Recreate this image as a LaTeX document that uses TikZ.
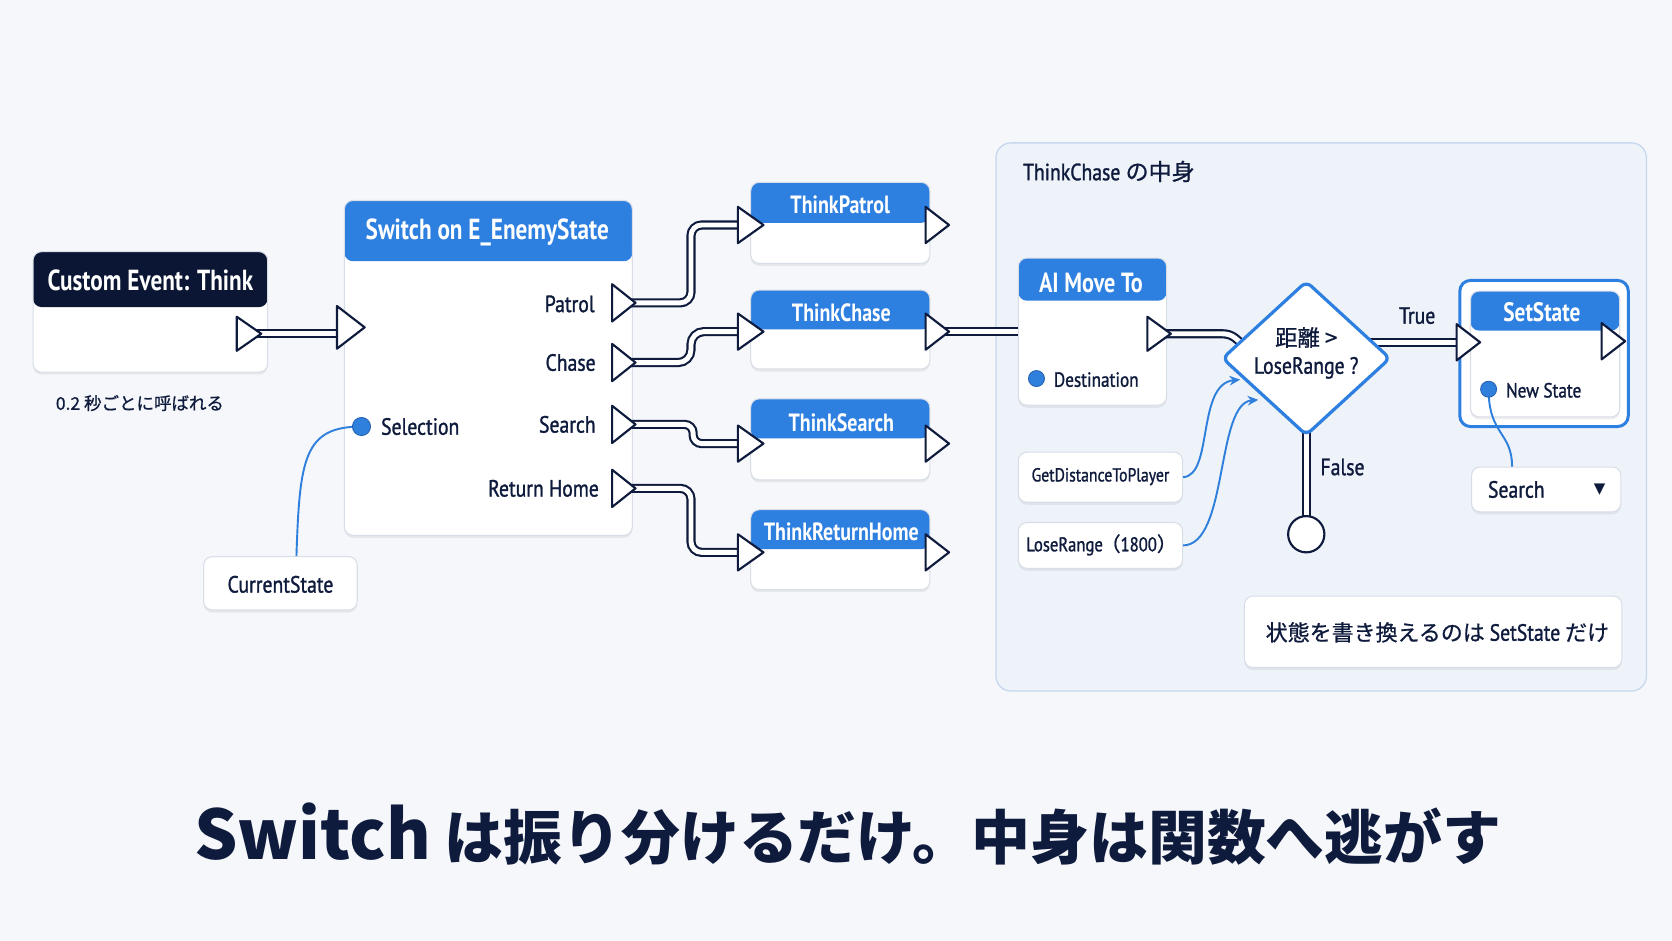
\documentclass[tikz,border=0pt]{standalone}
\usepackage{fontspec}
\usetikzlibrary{calc,fit,shadows,arrows.meta,shapes.geometric}
\setmainfont{PT Sans}
\newfontfamily\jpf[FakeBold=0.8]{Noto Sans CJK JP}
\newfontfamily\jpb{Noto Sans CJK JP}
\newfontfamily\ttlf[FakeStretch=0.8]{PT Sans}
\newfontfamily\labf[FakeStretch=0.84,FakeBold=1.2]{PT Sans}
\newfontfamily\dvf{DejaVu Sans}
\definecolor{bg}{HTML}{F5F7FA}
\definecolor{navy}{HTML}{0F1B3D}
\definecolor{hnavy}{HTML}{0A1633}
\definecolor{hblue}{HTML}{2D7FE0}
\definecolor{wblue}{HTML}{2F7FDD}
\definecolor{panelf}{HTML}{EEF3FA}
\definecolor{panelb}{HTML}{C6D7EE}
\definecolor{boxb}{HTML}{D8DEE7}
\newcommand\drawpin[3]{\draw[pinst] ($(#1)+(0,-#2/2)$) -- ($(#1)+(#3,0)$) -- ($(#1)+(0,#2/2)$) -- cycle;}
\tikzset{
  box/.style={fill=white, draw=boxb, line width=0.5pt, rounded corners=4pt, inner sep=0pt,
    drop shadow={shadow xshift=0pt, shadow yshift=-1.2pt, opacity=0.13}},
  hdr/.style 2 args={path picture={\fill[#1] (path picture bounding box.north west) rectangle ($(path picture bounding box.north east)+(0,#2)$);}},
  panel/.style={fill=panelf, draw=panelb, line width=0.6pt, rounded corners=7pt, inner sep=0pt},
  ttl/.style={font=\ttlf\bfseries\fontsize{12.5}{15}\selectfont, text=white, inner sep=0pt},
  lab/.style={font=\labf\fontsize{11}{13}\selectfont, text=navy, inner sep=0pt},
  slab/.style={font=\labf\fontsize{9.6}{12}\selectfont, text=navy, inner sep=0pt},
  jpt/.style={font=\jpf\fontsize{8.2}{11}\selectfont, text=navy, inner sep=0pt},
  wire/.style={draw=navy, line width=1pt, double=white, double distance=2.3pt},
  data/.style={draw=wblue, line width=0.9pt},
  pinst/.style={fill=white, draw=navy, line width=1pt, line join=round},
  pinc/.style={circle, fill=wblue, draw=hblue!70!navy, line width=0.4pt, inner sep=0pt, minimum size=8.5pt},
}
\begin{document}
\begin{tikzpicture}[x=0.5pt,y=-0.5pt]
\fill[bg] (0,0) rectangle (1568,882);
\useasboundingbox (0,0) rectangle (1568,882);

% panel
\node[panel, fit={(934,134)(1544,648)}] (pn) {};
\node[lab, anchor=base west] (pnt) at (959,169) {ThinkChase {\jpf\fontsize{10.8}{13}\selectfont の中身}};

% custom event
\node[box, hdr={hnavy}{52}, fit={(31,236)(251,349)}] (ce) {};
\node[ttl, font=\ttlf\bfseries\fontsize{13.6}{15}\selectfont] (cet) at (141,263) {Custom Event: Think};
\node[jpt, anchor=west] (cen) at (52,378) {0.2 秒ごとに呼ばれる};

% switch
\node[box, hdr={hblue}{57}, fit={(323,188)(593,502)}] (sw) {};
\node[ttl, font=\ttlf\bfseries\fontsize{13.6}{15}\selectfont] (swt) at (457,218) {Switch on E\_EnemyState};
\node[lab, anchor=east] (lP) at (558,285) {Patrol};
\node[lab, anchor=east] (lC) at (559,340) {Chase};
\node[lab, anchor=east] (lS) at (559,398) {Search};
\node[lab, anchor=east] (lR) at (562,458) {Return Home};
\node[lab, anchor=west] (lSel) at (357,400) {Selection};
\node[box, fit={(191,522)(335,572)}] (cs) {};
\node[lab] (cst) at (263,548) {CurrentState};

% think nodes
\tikzset{tttl/.style={ttl, font=\ttlf\bfseries\fontsize{11.7}{14}\selectfont}}
\node[box, hdr={hblue}{38}, fit={(704,171)(872,247)}] (tp) {};
\node[tttl] (tpt) at (788,192) {ThinkPatrol};
\node[box, hdr={hblue}{37}, fit={(704,272)(872,346)}] (tc) {};
\node[tttl] (tct) at (789,293) {ThinkChase};
\node[box, hdr={hblue}{37}, fit={(704,374)(872,450)}] (ts) {};
\node[tttl] (tst) at (789,396) {ThinkSearch};
\node[box, hdr={hblue}{37}, fit={(704,478)(872,553)}] (tr) {};
\node[tttl] (trt) at (789,499) {ThinkReturnHome};

% AI move to
\node[box, hdr={hblue}{40}, fit={(955,242)(1094,380)}] (amt) {};
\node[ttl, font=\ttlf\bfseries\fontsize{13}{15}\selectfont] (amtt) at (1023,265) {AI Move To};
\node[slab, anchor=west] (lDst) at (988,356) {Destination};

% SetState
\node[fill=white, draw=hblue, line width=1.4pt, rounded corners=5pt, inner sep=0pt, fit={(1369,263)(1527,400)}] (ssh) {};
\node[box, hdr={hblue}{37}, fit={(1379,273)(1519,391)}] (ss) {};
\node[ttl] (sst) at (1446,293) {SetState};
\node[slab, anchor=west] (lNs) at (1412,366) {New State};
\node[box, fit={(1380,438)(1520,480)}] (sd) {};
\node[lab] (sdt) at (1422,459) {Search};
\node[font=\dvf\fontsize{7}{8}\selectfont, text=navy, inner sep=0pt] (sdv) at (1500,459) {▼};

% inputs
\node[box, fit={(955,424)(1109,471)}] (gd) {};
\node[slab, font=\labf\fontsize{8.8}{10}\selectfont] (gdt) at (1032,447) {GetDistanceToPlayer};
\node[box, fit={(955,490)(1109,533)}] (lr) {};
\node[slab, font=\labf\fontsize{9.3}{11}\selectfont] (lrt) at (1033,511) {LoseRange{\jpf\kern-1pt（}1800{\jpf ）}};

% note
\node[box, fit={(1167,559)(1521,626)}] (nt) {};
\node[jpt, font=\jpf\fontsize{10.3}{12}\selectfont] (ntt) at (1348,593) {状態を書き換えるのは {\labf\fontsize{11}{12}\selectfont SetState} だけ};

% coordinates
\coordinate (ceo) at (222,313);
\coordinate (swi) at (316,307);
\coordinate (swP) at (574,284);
\coordinate (swC) at (574,340);
\coordinate (swS) at (574,398);
\coordinate (swR) at (574,458);
\coordinate (tpi) at (692,211); \coordinate (tpo) at (868,211);
\coordinate (tci) at (692,311); \coordinate (tco) at (868,311);
\coordinate (tsi) at (692,416); \coordinate (tso) at (868,416);
\coordinate (tri) at (692,518); \coordinate (tro) at (868,518);
\coordinate (amo) at (1076,313);
\coordinate (ssi) at (1366,321);
\coordinate (sso) at (1502,320);
\coordinate (diac) at (1225,336);
\coordinate (fcc) at (1225,501);
\coordinate (selc) at (339,400);
\coordinate (dstc) at (972,355);
\coordinate (nsc) at (1396,365);

% exec wires
\draw[wire] (ceo) -- (ceo -| swi);
\draw[wire, rounded corners=5pt] (swP) -- (648,284) -- (648,211) -- (tpi);
\draw[wire, rounded corners=6pt] (swC) -- (648,340) -- (648,311) -- (tci);
\draw[wire, rounded corners=4pt] (swS) -- (650,398) -- (650,416) -- (tsi);
\draw[wire, rounded corners=5pt] (swR) -- (648,458) -- (648,518) -- (tri);
\draw[wire] (tco) -- (tco -| amt.west);
\draw[wire] (amo) -- (1146,313) .. controls (1156,313) and (1161,318) .. (1170,330);
\draw[wire] (diac |- ssi) -- (ssi);
\draw[wire] (diac) -- (fcc);

% data wires
\draw[data] ($(cs.north)+(15,0)$) .. controls (281,430) and (285,400) .. (selc);
\draw[data, -{Stealth[length=5pt,width=4.5pt]}] (gd.east) .. controls (1138,446) and (1122,360) .. (1163,356);
\draw[data, -{Stealth[length=5pt,width=4.5pt]}] (lr.east) .. controls (1152,511) and (1140,378) .. (1180,375);
\draw[data] (nsc) .. controls (1396,408) and (1418,405) .. ($(sd.north)+(-32,0)$);

% diamond
\node[diamond, draw=hblue, line width=1.5pt, fill=white, rounded corners=3pt, minimum width=79pt, minimum height=72.5pt, inner sep=0pt,
  drop shadow={shadow xshift=0pt, shadow yshift=-1.2pt, opacity=0.13}] (dia) at (diac) {};
\node[jpt, align=center, font=\jpf\fontsize{10.5}{13}\selectfont] (diat) at (1225,331) {距離 >\\{\labf\fontsize{11}{13}\selectfont LoseRange ?}};
\node[lab] (lTrue) at (1329,296) {True};
\node[lab] (lFalse) at (1259,438) {False};
\node[circle, draw=navy, line width=1pt, fill=white, minimum size=17pt, inner sep=0pt] (fc) at (fcc) {};

% exec pins
\drawpin{ceo}{32}{23}
\drawpin{swi}{40}{26}
\drawpin{swP}{35}{22}
\drawpin{swC}{35}{22}
\drawpin{swS}{35}{22}
\drawpin{swR}{35}{22}
\drawpin{tpi}{34}{24} \drawpin{tpo}{34}{22}
\drawpin{tci}{34}{24} \drawpin{tco}{34}{22}
\drawpin{tsi}{34}{24} \drawpin{tso}{34}{22}
\drawpin{tri}{34}{24} \drawpin{tro}{34}{22}
\drawpin{amo}{32}{22}
\drawpin{ssi}{34}{22}
\drawpin{sso}{34}{22}

% data pins
\node[pinc] (selp) at (selc) {};
\node[pinc, minimum size=7.5pt] (dstp) at (dstc) {};
\node[pinc, minimum size=7.5pt] (nsp) at (nsc) {};

% caption
\node[font=\jpb\bfseries\fontsize{27.6}{32}\selectfont, text=navy, inner sep=0pt] (cap) at (795,782) {{\fontsize{32}{36}\selectfont Switch} は振り分けるだけ。中身は関数へ逃がす};
\end{tikzpicture}
\end{document}
